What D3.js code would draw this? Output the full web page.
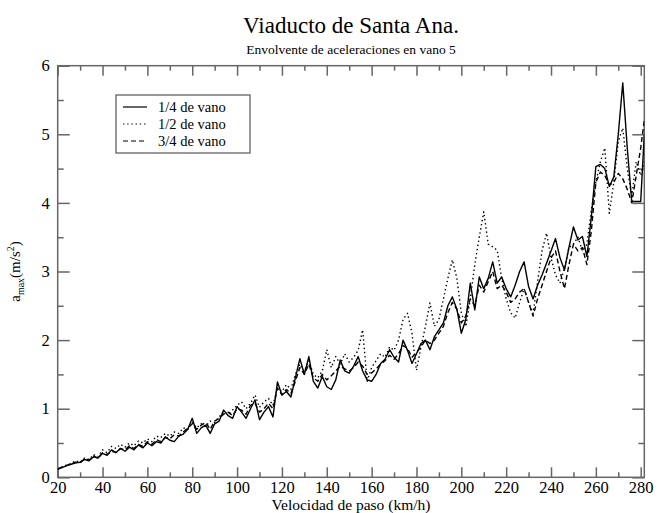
<!DOCTYPE html>
<html><head><meta charset="utf-8">
<script src="https://cdn.jsdelivr.net/npm/d3@7"></script>
<style>body{margin:0;background:#fff}svg{display:block}</style>
</head><body><svg id="c" width="662" height="513"></svg>
<script>
const title = "Viaducto de Santa Ana.";
const subtitle = "Envolvente de aceleraciones en vano 5";
const xLabel = "Velocidad de paso (km/h)";
const seriesNames = ["1/4 de vano", "1/2 de vano", "3/4 de vano"];
const xMajor = [20,40,60,80,100,120,140,160,180,200,220,240,260,280];
const xMinor = [30,50,70,90,110,130,150,170,190,210,230,250,270];
const yMajor = [0,1,2,3,4,5,6];
const yMinor = [0.5,1.5,2.5,3.5,4.5,5.5];

const speeds = [20,22,24,26,28,30,32,34,36,38,40,42,44,46,48,50,52,54,56,58,60,62,64,66,68,70,72,74,76,78,80,82,84,86,88,90,92,94,96,98,100,102,104,106,108,110,112,114,116,118,120,122,124,126,128,130,132,134,136,138,140,142,144,146,148,150,152,154,156,158,160,162,164,166,168,170,172,174,176,178,180,182,184,186,188,190,192,194,196,198,200,202,204,206,208,210,212,214,216,218,220,222,224,226,228,230,232,234,236,238,240,242,244,246,248,250,252,254,256,258,260,262,264,266,268,270,272,274,276,278,280,281.6];

const quarter = [0.12,0.14,0.17,0.19,0.21,0.22,0.26,0.24,0.30,0.28,0.35,0.32,0.40,0.36,0.42,0.38,0.44,0.40,0.47,0.43,0.50,0.46,0.52,0.50,0.59,0.54,0.52,0.60,0.63,0.70,0.86,0.64,0.72,0.76,0.64,0.78,0.82,0.98,0.90,0.86,1.03,0.95,0.86,1.00,1.13,0.84,0.95,1.03,0.88,1.39,1.20,1.25,1.17,1.45,1.73,1.50,1.76,1.40,1.30,1.47,1.32,1.28,1.42,1.71,1.55,1.52,1.62,1.76,1.55,1.42,1.40,1.50,1.66,1.72,1.86,1.75,1.68,2.00,1.85,1.66,1.80,1.95,2.00,1.86,2.05,2.15,2.25,2.50,2.63,2.45,2.10,2.30,2.83,2.44,2.92,2.75,2.90,3.14,2.83,2.92,2.75,2.63,2.80,3.00,3.14,2.78,2.60,2.80,2.95,3.12,3.30,3.48,3.20,3.02,3.35,3.65,3.46,3.51,3.22,3.80,4.53,4.56,4.50,4.24,4.38,5.00,5.75,4.80,4.02,4.02,4.02,5.00];

const half = [0.12,0.15,0.18,0.20,0.24,0.22,0.28,0.26,0.33,0.30,0.40,0.36,0.45,0.42,0.48,0.44,0.50,0.46,0.53,0.50,0.56,0.52,0.60,0.58,0.64,0.60,0.66,0.64,0.72,0.70,0.80,0.72,0.78,0.74,0.82,0.80,0.88,0.95,0.92,0.98,1.05,1.10,1.00,1.08,1.20,1.02,1.10,1.15,1.05,1.30,1.25,1.35,1.28,1.50,1.65,1.55,1.70,1.50,1.45,1.55,1.86,1.60,1.76,1.65,1.80,1.68,1.75,1.85,2.15,1.40,1.60,1.70,1.80,1.75,1.90,1.85,2.00,2.30,2.39,2.10,1.56,1.90,2.20,2.54,2.20,2.30,2.60,2.90,3.17,2.90,2.40,2.20,2.60,3.10,3.50,3.87,3.40,3.36,3.31,2.90,2.60,2.40,2.32,2.55,2.75,2.55,2.39,2.85,3.30,3.56,3.20,2.95,2.83,3.05,3.35,3.40,3.50,3.30,3.40,3.90,4.30,4.60,4.80,3.85,4.30,4.90,5.09,4.50,4.10,4.60,4.40,4.60];

const threeQuarter = [0.12,0.15,0.17,0.20,0.22,0.21,0.27,0.25,0.31,0.28,0.36,0.33,0.38,0.36,0.42,0.40,0.46,0.42,0.48,0.45,0.52,0.48,0.55,0.52,0.58,0.56,0.62,0.60,0.66,0.72,0.78,0.70,0.76,0.80,0.70,0.82,0.86,0.92,0.95,0.90,1.00,0.98,0.92,1.05,1.08,0.95,1.00,1.08,1.00,1.30,1.20,1.28,1.22,1.40,1.60,1.50,1.65,1.45,1.40,1.50,1.42,1.48,1.55,1.62,1.58,1.55,1.60,1.68,1.62,1.50,1.52,1.58,1.65,1.70,1.78,1.72,1.80,1.92,1.88,1.75,1.82,1.90,2.00,1.95,2.00,2.10,2.20,2.40,2.55,2.45,2.25,2.35,2.60,2.50,2.80,2.70,2.85,3.00,2.75,2.80,2.70,2.55,2.60,2.70,2.75,2.55,2.35,2.60,2.80,3.00,3.20,3.30,3.00,2.75,3.10,3.40,3.30,3.35,3.10,3.60,4.30,4.45,4.40,4.26,4.30,4.43,4.35,4.20,4.00,4.40,4.80,5.20];

const svg = d3.select("#c");
const font = "'Liberation Serif','Times New Roman',serif";
const axisColor = "#666";
const m = {left: 57.7, right: 644.3, top: 65.7, bottom: 477.3};

const x = d3.scaleLinear().domain([20, 281.6]).range([m.left, m.right]);
const y = d3.scaleLinear().domain([0, 6]).range([m.bottom, m.top]);

svg.append("text").attr("x", (m.left+m.right)/2).attr("y", 33)
  .attr("text-anchor","middle").attr("font-family",font).attr("font-size",23).text(title);
svg.append("text").attr("x", (m.left+m.right)/2).attr("y", 54)
  .attr("text-anchor","middle").attr("font-family",font).attr("font-size",13.5).text(subtitle);

function styleAxis(g){
  g.select(".domain").remove();
  g.selectAll(".tick line").attr("stroke",axisColor).attr("stroke-width",1.5);
  g.selectAll(".tick text").attr("font-family",font).attr("font-size",16.5).attr("fill","#000");
}
// bottom
svg.append("g").attr("transform",`translate(0,${m.bottom})`)
  .call(d3.axisBottom(x).tickValues(xMajor).tickSize(-10).tickPadding(4).tickFormat(d3.format("d"))).call(styleAxis);
svg.append("g").attr("transform",`translate(0,${m.bottom})`)
  .call(d3.axisBottom(x).tickValues(xMinor).tickSize(-5).tickFormat("")).call(styleAxis);
// top
svg.append("g").attr("transform",`translate(0,${m.top})`)
  .call(d3.axisTop(x).tickValues(xMajor).tickSize(-10).tickFormat("")).call(styleAxis);
svg.append("g").attr("transform",`translate(0,${m.top})`)
  .call(d3.axisTop(x).tickValues(xMinor).tickSize(-5).tickFormat("")).call(styleAxis);
// left
svg.append("g").attr("transform",`translate(${m.left},0)`)
  .call(d3.axisLeft(y).tickValues(yMajor).tickSize(-12).tickPadding(8).tickFormat(d3.format("d"))).call(styleAxis);
svg.append("g").attr("transform",`translate(${m.left},0)`)
  .call(d3.axisLeft(y).tickValues(yMinor).tickSize(-6).tickFormat("")).call(styleAxis);
// right
svg.append("g").attr("transform",`translate(${m.right},0)`)
  .call(d3.axisRight(y).tickValues(yMajor).tickSize(-12).tickFormat("")).call(styleAxis);
svg.append("g").attr("transform",`translate(${m.right},0)`)
  .call(d3.axisRight(y).tickValues(yMinor).tickSize(-6).tickFormat("")).call(styleAxis);

svg.append("rect").attr("x",m.left).attr("y",m.top).attr("width",m.right-m.left).attr("height",m.bottom-m.top)
  .attr("fill","none").attr("stroke",axisColor).attr("stroke-width",1.5);

svg.append("text").attr("x",(m.left+m.right)/2).attr("y",510)
  .attr("text-anchor","middle").attr("font-family",font).attr("font-size",15.5).text(xLabel);

const yl = svg.append("text").attr("transform",`translate(20,${(m.top+m.bottom)/2}) rotate(-90)`)
  .attr("text-anchor","middle").attr("font-family",font).attr("font-size",15);
yl.append("tspan").text("a");
yl.append("tspan").attr("font-size",10).attr("dy",4).text("max");
yl.append("tspan").attr("dy",-4).text("(m/s");
yl.append("tspan").attr("font-size",10).attr("dy",-6).text("2");
yl.append("tspan").attr("dy",6).text(")");

const series = [
  {name: seriesNames[0], values: quarter, dash: null},
  {name: seriesNames[1], values: half, dash: "1.4,2.8"},
  {name: seriesNames[2], values: threeQuarter, dash: "5,3"}
];
const line = d3.line().x((d,i)=>x(speeds[i])).y(d=>y(d));
svg.append("defs").append("clipPath").attr("id","clip").append("rect")
  .attr("x",m.left).attr("y",m.top).attr("width",m.right-m.left).attr("height",m.bottom-m.top);
const pg = svg.append("g").attr("clip-path","url(#clip)");
series.slice().reverse().forEach(s=>{
  pg.append("path").datum(s.values).attr("d",line).attr("fill","none").attr("stroke","#000")
    .attr("stroke-width",1.4).attr("stroke-dasharray",s.dash).attr("stroke-linejoin","round");
});

// legend
const lg = svg.append("g");
lg.append("rect").attr("x",116).attr("y",95).attr("width",134).attr("height",58)
  .attr("fill","#fff").attr("stroke","#555").attr("stroke-width",1.2);
series.forEach((s,i)=>{
  const yy = 107 + i*17;
  lg.append("line").attr("x1",123).attr("x2",147).attr("y1",yy).attr("y2",yy)
    .attr("stroke","#000").attr("stroke-width",1.2).attr("stroke-dasharray",s.dash);
  lg.append("text").attr("x",158).attr("y",yy+5).attr("font-family",font).attr("font-size",14.5).text(s.name);
});
</script></body></html>
